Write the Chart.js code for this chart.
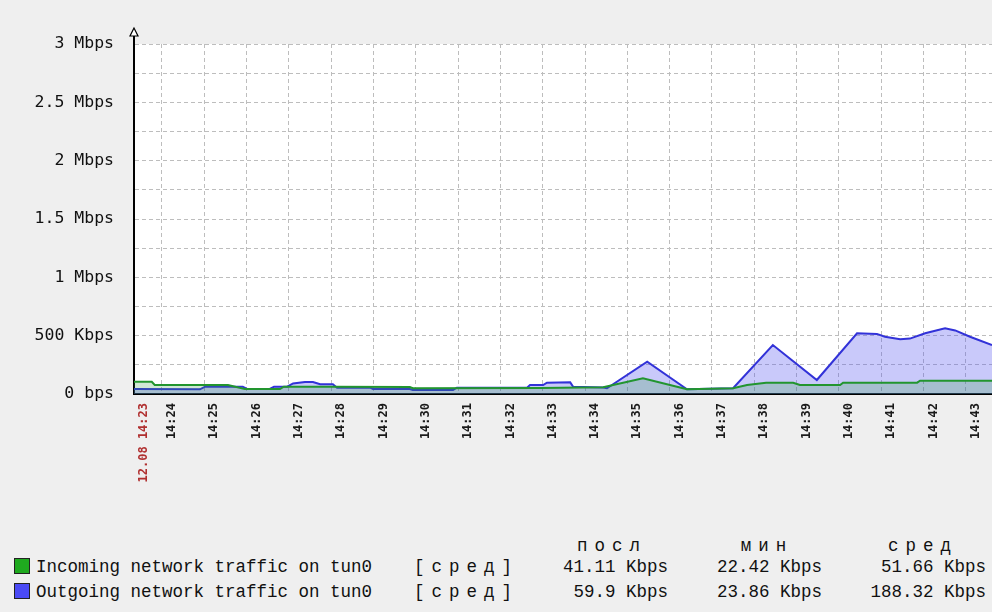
<!DOCTYPE html>
<html>
<head>
<meta charset="utf-8">
<script src="https://cdn.jsdelivr.net/npm/chart.js@4/dist/chart.umd.min.js"></script>
<style>
  body { margin: 0; background: #efefef; width: 992px; height: 612px; overflow: hidden; position: relative; }
  #wrap { position: absolute; left: 0; top: 0; width: 992px; height: 530px; }
  .lg { position: absolute; font-family: "Liberation Mono", "DejaVu Sans Mono", monospace; font-size: 17.5px; color: #111; white-space: pre; line-height: 20px; }
  .box { position: absolute; width: 14px; height: 14px; border: 1px solid #222; }
  .r { text-align: right; }
</style>
</head>
<body>
<div id="wrap"><canvas id="chart" width="992" height="530"></canvas></div>
<div id="legend"></div>
<script>
// time in minutes after 14:00, values in Kbps
const timesIn = [23.34, 23.76, 23.83, 25.56, 25.96, 26.79, 26.88, 28.04, 29.86, 29.93, 32.94, 34.43, 35.37, 36.41, 37.50, 37.83, 38.28, 38.92, 39.08, 40.03, 40.10, 41.85, 41.92, 43.62];
const incoming = [105, 105, 77, 77, 43, 43, 63, 63, 60, 49, 52, 57, 134, 40, 49, 77, 97, 97, 77, 77, 97, 97, 114, 114];

const timesOut = [23.34, 24.90, 25.02, 25.91, 26.01, 26.55, 26.65, 26.96, 27.10, 27.38, 27.57, 27.74, 28.04, 28.14, 28.92, 28.99, 29.86, 29.93, 30.88, 30.97, 32.63, 32.70, 33.01, 33.10, 33.65, 33.72, 34.43, 34.52, 35.47, 36.41, 37.50, 38.44, 39.48, 40.43, 40.90, 41.09, 41.45, 41.68, 42.04, 42.51, 42.75, 43.10, 43.62];
const outgoing = [43, 40, 63, 63, 43, 43, 63, 63, 91, 103, 103, 83, 83, 54, 54, 43, 43, 34, 34, 54, 54, 77, 77, 97, 100, 62, 55, 49, 277, 40, 49, 420, 120, 520, 515, 491, 469, 475, 520, 563, 545, 491, 420];

const tickTimes = [23.34, 24, 25, 26, 27, 28, 29, 30, 31, 32, 33, 34, 35, 36, 37, 38, 39, 40, 41, 42, 43];
const xTickLabels = ['12.08 14:23', '14:24', '14:25', '14:26', '14:27', '14:28', '14:29', '14:30', '14:31', '14:32', '14:33',
  '14:34', '14:35', '14:36', '14:37', '14:38', '14:39', '14:40', '14:41', '14:42', '14:43'];
const yTickLabels = ['0 bps', '500 Kbps', '1 Mbps', '1.5 Mbps', '2 Mbps', '2.5 Mbps', '3 Mbps'];

const legendNames = ['Incoming network traffic on tun0', 'Outgoing network traffic on tun0'];
const legendColors = ['#1faa1f', '#4a4af5'];
const legendHeads = ['посл', 'мин', 'сред'];
const legendLast = ['41.11 Kbps', '59.9 Kbps'];
const legendMin = ['22.42 Kbps', '23.86 Kbps'];
const legendAvg = ['51.66 Kbps', '188.32 Kbps'];

const plotBackground = {
  id: 'plotBackground',
  beforeDraw(chart) {
    const {ctx, chartArea} = chart;
    ctx.save();
    ctx.fillStyle = '#fff';
    ctx.fillRect(chartArea.left, chartArea.top, chartArea.right - chartArea.left, chartArea.bottom - chartArea.top);
    ctx.restore();
  },
  afterDraw(chart) {
    // arrow on top of the value axis
    const {ctx, chartArea} = chart;
    const x = chartArea.left, top = chartArea.top;
    ctx.save();
    ctx.strokeStyle = '#000';
    ctx.lineWidth = 2;
    ctx.beginPath();
    ctx.moveTo(x, top);
    ctx.lineTo(x, top - 8);
    ctx.stroke();
    ctx.lineWidth = 1.2;
    ctx.fillStyle = '#fff';
    ctx.beginPath();
    ctx.moveTo(x, top - 16);
    ctx.lineTo(x - 4, top - 8);
    ctx.lineTo(x + 4, top - 8);
    ctx.closePath();
    ctx.fill();
    ctx.stroke();
    ctx.restore();
  }
};

new Chart(document.getElementById('chart'), {
  type: 'line',
  data: {
    datasets: [
      {
        label: legendNames[0],
        data: timesIn.map((t, i) => ({x: t, y: incoming[i]})),
        borderColor: '#22952f',
        backgroundColor: 'rgba(40,150,60,0.22)',
        borderWidth: 2,
        fill: 'origin',
        pointRadius: 0,
        tension: 0
      },
      {
        label: legendNames[1],
        data: timesOut.map((t, i) => ({x: t, y: outgoing[i]})),
        borderColor: '#3232d8',
        backgroundColor: 'rgba(90,90,240,0.33)',
        borderWidth: 2,
        fill: 'origin',
        pointRadius: 0,
        tension: 0
      }
    ]
  },
  options: {
    responsive: false,
    animation: false,
    layout: {padding: {top: 44, left: 0, right: 0, bottom: 0}},
    plugins: {legend: {display: false}, tooltip: {enabled: false}},
    scales: {
      x: {
        type: 'linear',
        min: 23.34,
        max: 43.62,
        afterBuildTicks: (s) => { s.ticks = tickTimes.map(v => ({value: v})); },
        afterFit: (s) => { s.height = 136; },
        grid: {color: '#bdbdbd', drawTicks: false, lineWidth: 1},
        border: {color: '#000', width: 2, dash: [4, 3]},
        ticks: {
          autoSkip: false,
          minRotation: 90,
          maxRotation: 90,
          padding: 9,
          labelOffset: 10,
          font: {family: 'DejaVu Sans Mono', size: 12, weight: 'bold'},
          color: (c) => c.index === 0 ? '#b03030' : '#1a1a1a',
          callback: (v, i) => xTickLabels[i] ?? ''
        }
      },
      y: {
        min: 0,
        max: 3000,
        afterFit: (s) => { s.width = 134; },
        grid: {color: '#bdbdbd', drawTicks: false, lineWidth: 1},
        border: {color: '#000', width: 2, dash: [4, 3]},
        ticks: {
          stepSize: 250,
          padding: 20,
          font: {family: 'DejaVu Sans Mono', size: 16.5},
          color: '#111',
          callback: (v) => v % 500 === 0 ? yTickLabels[v / 500] : ''
        }
      }
    }
  },
  plugins: [plotBackground]
});

// legend table under the graph
const legend = document.getElementById('legend');
const add = (text, css, cls) => {
  const el = document.createElement('div');
  el.className = cls || 'lg';
  el.style.cssText = css;
  el.textContent = text;
  legend.appendChild(el);
  return el;
};
const headX = [612, 767, 923];
legendHeads.forEach((h, i) => {
  add(h, `left:${headX[i] - 60}px;width:120px;top:536px;text-align:center;letter-spacing:7px;`);
});
legendNames.forEach((name, i) => {
  const y = 557 + i * 25;
  add('', `left:14px;top:${y + 1}px;background:${legendColors[i]};`, 'box');
  add(name, `left:36px;top:${y}px;`);
  add('[сред]', `left:414px;top:${y}px;letter-spacing:7px;`);
  add(legendLast[i], `left:468px;width:200px;top:${y}px;`, 'lg r');
  add(legendMin[i], `left:622px;width:200px;top:${y}px;`, 'lg r');
  add(legendAvg[i], `left:786px;width:200px;top:${y}px;`, 'lg r');
});
</script>
</body>
</html>
